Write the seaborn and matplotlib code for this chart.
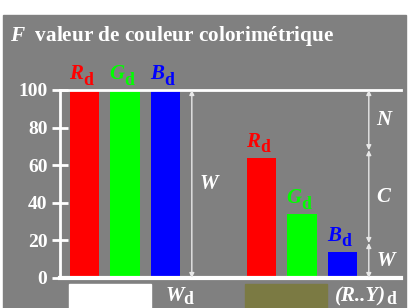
import matplotlib
matplotlib.use('Agg')
import matplotlib.pyplot as plt
import seaborn as sns
import pandas as pd
from matplotlib.patches import Rectangle
from matplotlib.transforms import ScaledTranslation

# valeurs
channels = ['R', 'G', 'B', 'R', 'G', 'B']
values = [100, 100, 100, 64, 34, 14]
groups = ['Wd', 'Wd', 'Wd', 'RYd', 'RYd', 'RYd']
yticks = [0, 20, 40, 60, 80, 100]
split_levels = [100, 68, 18.6, 0]      # limites N / C / W
split_names = ['N', 'C', 'W']
title = 'valeur de couleur colorimétrique'

palette = {'R': '#ff0000', 'G': '#00ff00', 'B': '#0000ff'}
grey = '#808080'
light = '#e8e8e8'

plt.rcParams['font.family'] = ['Liberation Serif', 'DejaVu Serif']
plt.rcParams['font.weight'] = 'bold'
plt.rcParams['mathtext.fontset'] = 'custom'
plt.rcParams['mathtext.rm'] = 'Liberation Serif:bold'
plt.rcParams['mathtext.bf'] = 'Liberation Serif:bold'
plt.rcParams['mathtext.it'] = 'Liberation Serif:italic:bold'

df = pd.DataFrame({'channel': channels, 'value': values, 'group': groups})
# position des barres : deux groupes de trois
df['pos'] = [0, 1, 2, 4.37, 5.37, 6.37]


def sub_label(ax, x, y, base, color, size=15, va='bottom', centered=True):
    # lettre italique + indice "d" droit, presque de meme taille
    t = ax.text(x, y, base, color=color, fontsize=size, style='italic',
                ha='right' if centered else 'left', va=va, clip_on=False)
    fig.canvas.draw()
    w = t.get_window_extent().width
    if centered:
        shift = (w - 9) / 2 - 4
        t.set_transform(t.get_transform() +
                        ScaledTranslation(shift / 100, 0, fig.dpi_scale_trans))
        off = shift * 72 / 100
    else:
        off = w * 72 / 100
    ax.annotate('d', xy=(x, y), xytext=(off, -3), textcoords='offset points',
                color=color, fontsize=size * 0.85, ha='left', va=va,
                annotation_clip=False)


fig = plt.figure(figsize=(4.13, 3.08), dpi=100)
fig.patches.append(Rectangle((3 / 413, 0), 403 / 413, 293 / 308,
                             transform=fig.transFigure, color=grey, zorder=-5))
fig.text(10 / 413, 1 - 36 / 308, r'$F$  ' + title, color='white',
         fontsize=15.3, va='center', ha='left')

ax = fig.add_axes([60 / 413, 30 / 308, 341 / 413, 188 / 308])
ax.set_facecolor('none')

sns.barplot(data=df, x='pos', y='value', hue='channel', palette=palette,
            native_scale=True, width=0.72, saturation=1, legend=False,
            dodge=False, ax=ax, zorder=2)

ax.set_xlim(-0.605, 7.815)
ax.set_ylim(0, 100)
ax.set_yticks(yticks)
ax.set_xticks([])
ax.set_xlabel('')
ax.set_ylabel('')
ax.tick_params(axis='y', direction='inout', length=12, width=2,
               colors='white', labelsize=14, pad=3)
for s in ['left', 'top']:
    ax.spines[s].set_color('white')
    ax.spines[s].set_linewidth(2)
ax.spines['bottom'].set_color('white')
ax.spines['bottom'].set_linewidth(3)
ax.spines['right'].set_visible(False)

# étiquettes au-dessus des barres
for _, r in df.iterrows():
    sub_label(ax, r['pos'], r['value'] + 3, r['channel'], palette[r['channel']])

arrow = dict(arrowstyle='<|-|>', color=light, lw=1, mutation_scale=7,
             shrinkA=0, shrinkB=0)
# flèche W du blanc
ax.annotate('', xy=(2.65, 0), xytext=(2.65, 100), arrowprops=arrow)
ax.text(2.85, 50, 'W', color='white', fontsize=15, style='italic',
        va='center', ha='left')

# flèches N / C / W de la couleur
for top, bot, name in zip(split_levels[:-1], split_levels[1:], split_names):
    ax.annotate('', xy=(7.02, bot), xytext=(7.02, top), arrowprops=arrow)
    ax.text(7.2, (top + bot) / 2, name, color='white', fontsize=15,
            style='italic', va='center', ha='left')

# échantillons sous l'axe
ax.add_patch(Rectangle((-0.383, -3.2), 2.02, -20, color='white',
                       clip_on=False, zorder=1))
ax.add_patch(Rectangle((3.96, -3.2), 2.02, -20, color='#7b7a43',
                       clip_on=False, zorder=1))
sub_label(ax, 1.99, -4.5, 'W', 'white', va='top', centered=False)
sub_label(ax, 6.19, -4.5, '(R..Y)', 'white', va='top', centered=False)

fig.savefig('out.png', dpi=100, facecolor='white')
